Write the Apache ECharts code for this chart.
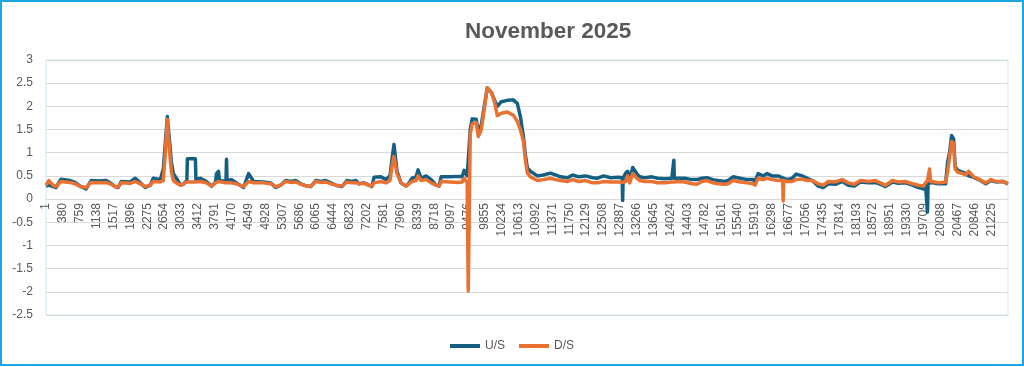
<!DOCTYPE html>
<html>
<head>
<meta charset="utf-8">
<script src="https://cdn.jsdelivr.net/npm/echarts@6/dist/echarts.min.js"></script>
<style>
html,body{margin:0;padding:0;background:#fff;}
#frame{position:absolute;left:0;top:0;width:1020px;height:362px;border:2px solid #1ca6e3;}
#chart{position:absolute;left:0;top:0;width:1024px;height:367px;}
</style>
</head>
<body>
<div id="chart"></div>
<div id="frame"></div>
<script>
// Sample index (shared x positions of the estimated readings)
const sampleIndex = [1,68,158,225,338,540,653,766,901,1013,1194,1351,1441,1554,1621,1689,1892,2004,2117,2229,2342,2410,2567,2635,2680,2725,2770,2815,2860,2928,3018,3085,3164,3175,3355,3367,3468,3603,3716,3806,3829,3874,3896,4042,4054,4065,4166,4279,4437,4550,4662,4887,5045,5157,5270,5382,5495,5608,5720,5855,5945,6058,6170,6283,6396,6508,6643,6756,6869,6959,7026,7139,7251,7319,7364,7522,7634,7724,7769,7814,7882,7972,8085,8152,8220,8310,8355,8422,8535,8648,8760,8828,8873,9075,9255,9345,9390,9458,9481,9526,9571,9661,9706,9774,9841,9909,9999,10066,10134,10224,10359,10494,10584,10652,10719,10764,10809,10877,11034,11169,11327,11440,11552,11710,11823,11958,12115,12273,12386,12521,12678,12858,12937,12948,12960,13016,13061,13106,13174,13264,13331,13444,13602,13737,13894,14052,14086,14097,14108,14187,14345,14502,14615,14728,14840,14975,15088,15246,15313,15426,15584,15742,15877,15922,15989,16102,16192,16304,16439,16541,16552,16563,16642,16754,16845,16980,17092,17205,17340,17452,17565,17723,17880,18015,18150,18286,18466,18623,18781,18848,19006,19141,19298,19456,19591,19703,19748,19782,19793,19805,19838,19861,19906,20041,20199,20244,20289,20334,20379,20413,20469,20582,20650,20717,20830,20942,21100,21213,21325,21483,21600];

const usValues = [0.28,0.30,0.27,0.25,0.43,0.40,0.36,0.28,0.22,0.40,0.39,0.40,0.35,0.27,0.25,0.38,0.37,0.45,0.35,0.25,0.30,0.45,0.42,0.65,1.20,1.78,1.30,0.80,0.55,0.45,0.30,0.32,0.40,0.87,0.87,0.42,0.45,0.38,0.28,0.36,0.55,0.60,0.40,0.38,0.86,0.40,0.42,0.35,0.25,0.55,0.38,0.37,0.35,0.25,0.30,0.40,0.38,0.40,0.33,0.28,0.27,0.40,0.38,0.40,0.35,0.30,0.27,0.40,0.38,0.40,0.33,0.35,0.30,0.27,0.47,0.48,0.42,0.50,0.85,1.18,0.60,0.35,0.28,0.35,0.45,0.48,0.63,0.45,0.50,0.42,0.30,0.28,0.48,0.48,0.49,0.48,0.62,0.50,0.52,1.50,1.73,1.72,1.45,1.60,2.00,2.40,2.30,2.15,2.00,2.10,2.13,2.14,2.06,1.78,1.35,0.95,0.67,0.60,0.50,0.52,0.56,0.52,0.48,0.46,0.52,0.48,0.50,0.46,0.45,0.50,0.46,0.47,0.46,-0.03,0.46,0.56,0.60,0.42,0.68,0.55,0.48,0.46,0.48,0.45,0.44,0.45,0.45,0.84,0.45,0.45,0.45,0.42,0.42,0.45,0.46,0.42,0.40,0.38,0.40,0.48,0.45,0.42,0.42,0.38,0.55,0.50,0.55,0.50,0.50,0.46,0.46,0.45,0.42,0.45,0.54,0.50,0.45,0.40,0.28,0.25,0.33,0.32,0.38,0.30,0.28,0.37,0.35,0.36,0.30,0.27,0.37,0.34,0.35,0.30,0.25,0.22,0.30,0.32,-0.28,0.33,0.35,0.35,0.35,0.33,0.33,0.80,1.00,1.37,1.30,0.70,0.62,0.58,0.55,0.50,0.47,0.42,0.33,0.40,0.37,0.38,0.33];

const dsValues = [0.30,0.40,0.30,0.27,0.38,0.36,0.33,0.27,0.25,0.36,0.35,0.36,0.33,0.27,0.26,0.35,0.34,0.38,0.33,0.27,0.30,0.38,0.37,0.40,1.00,1.72,1.10,0.60,0.40,0.35,0.30,0.33,0.37,0.37,0.37,0.37,0.38,0.35,0.28,0.35,0.38,0.38,0.36,0.35,0.35,0.35,0.35,0.33,0.27,0.38,0.35,0.35,0.33,0.27,0.30,0.38,0.36,0.37,0.32,0.28,0.27,0.38,0.36,0.37,0.33,0.30,0.28,0.37,0.35,0.36,0.33,0.34,0.30,0.28,0.35,0.38,0.35,0.40,0.70,0.92,0.55,0.35,0.28,0.33,0.38,0.40,0.50,0.40,0.42,0.35,0.30,0.28,0.38,0.37,0.36,0.37,0.45,0.35,-1.98,1.40,1.62,1.65,1.35,1.50,1.95,2.40,2.30,2.12,1.80,1.85,1.88,1.81,1.67,1.50,1.25,0.85,0.56,0.48,0.40,0.42,0.45,0.42,0.40,0.38,0.42,0.38,0.40,0.35,0.35,0.38,0.37,0.37,0.36,0.36,0.36,0.38,0.50,0.35,0.55,0.45,0.40,0.38,0.38,0.35,0.35,0.37,0.37,0.37,0.37,0.38,0.37,0.33,0.32,0.38,0.40,0.35,0.33,0.32,0.33,0.40,0.37,0.35,0.33,0.30,0.45,0.42,0.45,0.42,0.40,0.40,-0.04,0.40,0.38,0.38,0.42,0.43,0.40,0.40,0.33,0.30,0.38,0.37,0.42,0.35,0.32,0.40,0.38,0.40,0.33,0.30,0.40,0.37,0.38,0.33,0.30,0.28,0.35,0.38,0.40,0.40,0.65,0.38,0.38,0.35,0.37,0.60,0.90,1.24,1.20,0.65,0.58,0.55,0.52,0.60,0.48,0.43,0.35,0.42,0.38,0.38,0.33];

const tickLabels = [1,380,759,1138,1517,1896,2275,2654,3033,3412,3791,4170,4549,4928,5307,5686,6065,6444,6823,7202,7581,7960,8339,8718,9097,9476,9855,10234,10613,10992,11371,11750,12129,12508,12887,13266,13645,14024,14403,14782,15161,15540,15919,16298,16677,17056,17435,17814,18193,18572,18951,19330,19709,20088,20467,20846,21225];

const seriesNames = ['U/S','D/S'];
const lastIndex = 21600;

const usData = sampleIndex.map((x,i)=>[x, usValues[i]]);
const dsData = sampleIndex.map((x,i)=>[x, dsValues[i]]);

const font = 'Liberation Sans, Arial, sans-serif';
const gridTop = 60, gridBottom = 52, H = 367;
const yMin = -2.5, yMax = 3;
const plotH = H - gridTop - gridBottom;
const zeroOffset = -plotH * (0 - yMin) / (yMax - yMin); // move x axis up to value 0

const chart = echarts.init(document.getElementById('chart'), null, {renderer:'canvas'});
chart.setOption({
  animation:false,
  title:{
    text:'November 2025',
    left:460, top:15,
    textStyle:{fontFamily:font, fontSize:22.5, fontWeight:'bold', color:'#595959'}
  },
  grid:{left:46, right:16, top:gridTop, bottom:gridBottom, show:true, borderColor:'#cbe9f7', borderWidth:1},
  legend:{
    data:seriesNames,
    bottom:10, left:'center',
    icon:'rect', itemWidth:30, itemHeight:4, itemGap:14,
    textStyle:{fontFamily:font, fontSize:12, color:'#595959'}
  },
  xAxis:{
    type:'value', min:1, max:lastIndex,
    position:'bottom', offset:zeroOffset,
    axisLine:{show:true, onZero:false, lineStyle:{color:'#d9d9d9', width:1}},
    axisTick:{show:false},
    splitLine:{show:false},
    axisLabel:{
      customValues:tickLabels,
      rotate:90, margin:4,
      fontFamily:font, fontSize:12, color:'#595959',
      formatter:v=>String(v)
    }
  },
  yAxis:{
    type:'value', min:yMin, max:yMax, interval:0.5,
    axisLine:{show:false},
    axisTick:{show:false},
    splitLine:{lineStyle:{color:'#d9d9d9', width:1}},
    axisLabel:{fontFamily:font, fontSize:12, color:'#595959', margin:13}
  },
  series:[
    {name:seriesNames[0], type:'line', data:usData, showSymbol:false, symbol:'none',
     lineStyle:{color:'#156082', width:3.5, join:'round'}, itemStyle:{color:'#156082'}},
    {name:seriesNames[1], type:'line', data:dsData, showSymbol:false, symbol:'none',
     lineStyle:{color:'#E97132', width:3.5, join:'round'}, itemStyle:{color:'#E97132'}}
  ]
});
</script>
</body>
</html>
